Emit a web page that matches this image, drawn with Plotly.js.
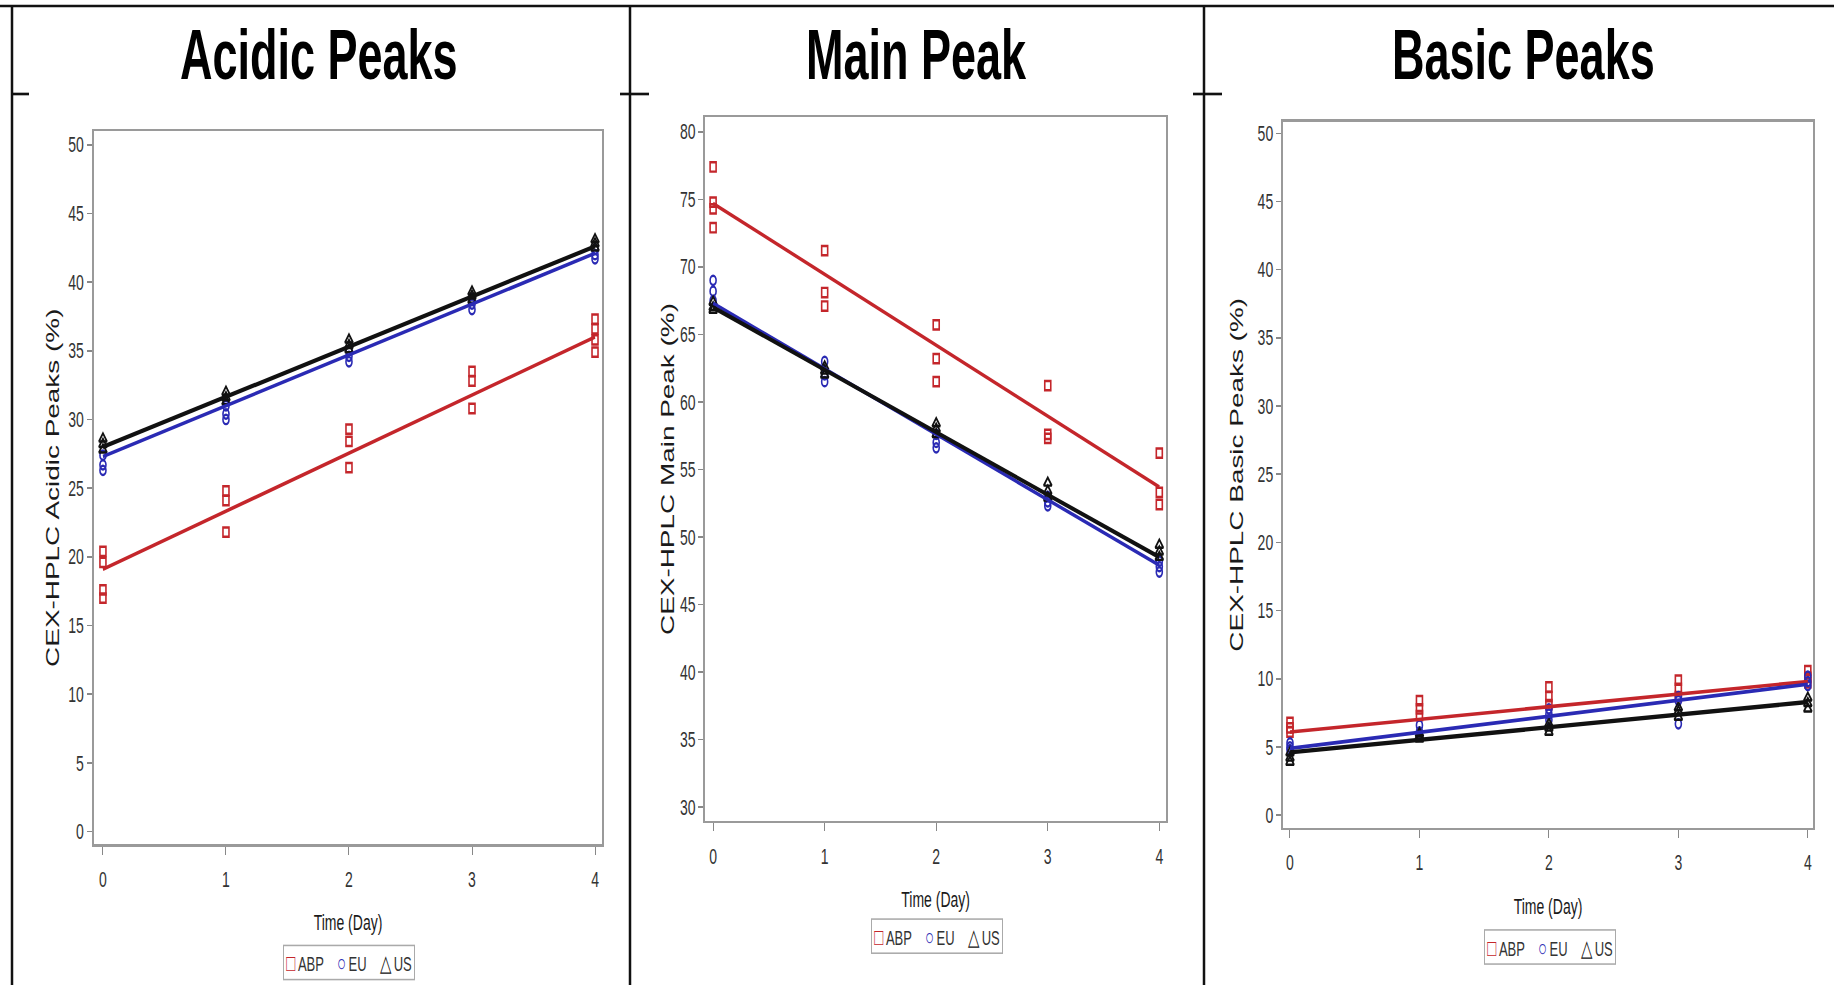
<!DOCTYPE html>
<html>
<head>
<meta charset="utf-8">
<script src="https://cdn.plot.ly/plotly-3.0.1.min.js"></script>
<style>
  html, body { margin: 0; padding: 0; background: #ffffff; width: 1834px; height: 985px; }
  #wrap { position: relative; width: 1834px; height: 985px; overflow: visible; }
  /* the reference picture is stretched vertically; draw at a compressed height and stretch it back */
  #chart { position: absolute; left: 0; top: 0; width: 1834px; height: 635px; transform: scaleY(1.55118); transform-origin: 0 0; }
</style>
</head>
<body>
<div id="wrap"><div id="chart"></div></div>
<script>
// ---------------- data ----------------
const days = [0, 1, 2, 3, 4];
const fitDays = [0, 4];
const seriesNames = ["ABP", "EU", "US"];
const panelTitles = ["Acidic Peaks", "Main Peak", "Basic Peaks"];
const yTitles = ["CEX-HPLC Acidic Peaks (%)", "CEX-HPLC Main Peak (%)", "CEX-HPLC Basic Peaks (%)"];
const xTitle = "Time (Day)";

// replicate values per day (outer index = day 0..4)
const acidicABP = [[20.4, 19.6, 17.6, 17.0], [24.8, 24.1, 21.8], [29.3, 28.4, 26.5], [33.5, 32.8, 30.8], [37.3, 36.6, 35.8, 34.9]];
const acidicEU  = [[27.4, 26.7, 26.3], [31.0, 30.4, 30.0], [35.0, 34.6, 34.2], [38.8, 38.4, 38.0], [42.4, 42.0, 41.7]];
const acidicUS  = [[28.6, 28.2, 27.8], [32.0, 31.6, 31.3], [35.8, 35.4, 35.1], [39.3, 39.0, 38.7], [43.1, 42.8, 42.5]];
const acidicFitABP = [19.1, 36.0];
const acidicFitEU  = [27.3, 42.1];
const acidicFitUS  = [28.0, 42.6];

const mainABP = [[77.4, 74.8, 74.3, 72.9], [71.2, 68.1, 67.1], [65.7, 63.2, 61.5], [61.2, 57.6, 57.3], [56.2, 53.3, 52.4]];
const mainEU  = [[69.0, 68.2, 67.5], [63.0, 62.0, 61.5], [57.6, 57.0, 56.6], [53.0, 52.6, 52.3], [48.2, 47.8, 47.4]];
const mainUS  = [[67.4, 67.0, 66.8], [62.6, 62.3, 62.0], [58.4, 58.0, 57.6], [54.0, 53.4, 52.9], [49.4, 48.9, 48.5]];
const mainFitABP = [74.7, 53.7];
const mainFitEU  = [67.3, 47.9];
const mainFitUS  = [67.0, 48.5];

const basicABP = [[6.8, 6.4, 6.1], [8.4, 7.8, 7.3], [9.4, 8.7, 8.1], [9.9, 9.3, 8.7], [10.6, 10.1, 9.7]];
const basicEU  = [[5.3, 5.0, 4.8], [6.6, 6.1, 5.8], [7.8, 7.4, 7.0], [8.7, 8.4, 6.7], [10.2, 9.8, 9.5]];
const basicUS  = [[4.6, 4.2, 3.9], [6.0, 5.8, 5.6], [6.7, 6.4, 6.1], [7.9, 7.6, 7.2], [8.6, 8.2, 7.8]];
const basicFitABP = [6.1, 9.8];
const basicFitEU  = [4.9, 9.6];
const basicFitUS  = [4.6, 8.3];

const yRanges = [[-0.94, 51.0], [28.96, 81.1], [-0.94, 50.86]];
const xRanges = [[-0.076, 4.06], [-0.07, 4.06], [-0.054, 4.04]];
const yTicks = [[0,5,10,15,20,25,30,35,40,45,50], [30,35,40,45,50,55,60,65,70,75,80], [0,5,10,15,20,25,30,35,40,45,50]];

// ---------------- styling ----------------
const W = 1834, H = 985;          // picture size
const PH = 635;                   // drawing height before vertical stretch
const colors = { ABP: "#c4262b", EU: "#2a2ab4", US: "#111111" };
const symbols = { ABP: "square-open", EU: "circle-open", US: "triangle-up-open" };
const legendGlyphs = { ABP: "\u25A1", EU: "\u25CB", US: "\u25B3" };
const SANS = '"Liberation Sans", Arial, sans-serif';

// plot area pixel boxes in the picture [left, right, top, bottom]
const boxes = [[93.6, 602.4, 131, 844.5], [705.3, 1166, 117, 821], [1283, 1813, 121.6, 828]];
const titleX = [319, 916, 1523];
const legendPos = [[349, 962], [937, 936], [1550, 947]];
const yStandoff = [4, 1, 9];

const panelData = [
  { ABP: acidicABP, EU: acidicEU, US: acidicUS, fit: { ABP: acidicFitABP, EU: acidicFitEU, US: acidicFitUS } },
  { ABP: mainABP, EU: mainEU, US: mainUS, fit: { ABP: mainFitABP, EU: mainFitEU, US: mainFitUS } },
  { ABP: basicABP, EU: basicEU, US: basicUS, fit: { ABP: basicFitABP, EU: basicFitEU, US: basicFitUS } }
];

function flatten(perDay) {
  const xs = [], ys = [];
  perDay.forEach((vals, i) => vals.forEach(v => { xs.push(days[i]); ys.push(v); }));
  return { xs, ys };
}

const legendText = seriesNames.map(s =>
  '<span style="color:' + colors[s] + ';font-size:15px">' + legendGlyphs[s] + '</span>\u2009' + s
).join('\u2002\u2002');

const traces = [];
const layout = {
  width: W, height: PH,
  margin: { l: 0, r: 0, t: 0, b: 0 },
  paper_bgcolor: "#ffffff",
  plot_bgcolor: "#ffffff",
  showlegend: false,
  shapes: [],
  annotations: []
};

panelData.forEach((pd, p) => {
  const ax = p === 0 ? "" : String(p + 1);
  const xa = "x" + ax, ya = "y" + ax;
  seriesNames.forEach(s => {
    const f = flatten(pd[s]);
    traces.push({
      type: "scatter", mode: "markers", name: s, x: f.xs, y: f.ys,
      xaxis: xa, yaxis: ya,
      marker: { symbol: symbols[s], size: s === "US" ? 7 : 6, color: colors[s], line: { width: 1.6, color: colors[s] } }
    });
  });
  seriesNames.forEach(s => {
    traces.push({
      type: "scatter", mode: "lines", name: s + " fit", x: fitDays, y: pd.fit[s],
      xaxis: xa, yaxis: ya,
      line: { color: colors[s], width: s === "US" ? 2.8 : 2.4 }
    });
  });

  const b = boxes[p];
  layout["xaxis" + ax] = {
    domain: [b[0] / W, b[1] / W],
    anchor: ya,
    range: xRanges[p],
    tickvals: days,
    ticktext: days.map(String),
    ticks: "outside", ticklen: 5, tickcolor: "#888", tickwidth: 1,
    ticklabelstandoff: 4,
    tickfont: { family: SANS, size: 14, color: "#333" },
    showline: true, linecolor: "#9a9a9a", linewidth: 1.6, mirror: true,
    showgrid: false, zeroline: false,
    title: { text: xTitle, font: { family: SANS, size: 14, color: "#1a1a1a" }, standoff: 16 }
  };
  layout["yaxis" + ax] = {
    domain: [1 - b[3] / H, 1 - b[2] / H],
    anchor: xa,
    range: yRanges[p],
    tickvals: yTicks[p],
    ticks: "outside", ticklen: 5, tickcolor: "#888", tickwidth: 1,
    tickfont: { family: SANS, size: 14, color: "#333" },
    showline: true, linecolor: "#9a9a9a", linewidth: 2, mirror: true,
    showgrid: false, zeroline: false,
    title: { text: yTitles[p], font: { family: SANS, size: 18, color: "#1a1a1a" }, standoff: yStandoff[p] }
  };

  // panel heading
  layout.annotations.push({
    xref: "paper", yref: "paper", x: titleX[p] / W, y: 1 - 55 / H,
    xanchor: "center", yanchor: "middle", showarrow: false,
    text: "<b>" + panelTitles[p] + "</b>",
    font: { family: SANS, size: 45, color: "#000" }
  });

  // legend box
  const lp = legendPos[p];
  layout.annotations.push({
    xref: "paper", yref: "paper", x: lp[0] / W, y: 1 - lp[1] / H,
    xanchor: "center", yanchor: "middle", showarrow: false,
    text: legendText,
    font: { family: SANS, size: 13, color: "#333" },
    bordercolor: "#aaa", borderwidth: 1, borderpad: 2, bgcolor: "#fff"
  });
});

// outer table frame lines
const frameColor = "#111";
layout.shapes.push({ type: "line", xref: "paper", yref: "paper", x0: 0, x1: 1, y0: 1 - 6 / H, y1: 1 - 6 / H, line: { color: frameColor, width: 1.7 } });
[12, 630, 1204].forEach(x => {
  layout.shapes.push({ type: "line", xref: "paper", yref: "paper", x0: x / W, x1: x / W, y0: 0, y1: 1 - 6 / H, line: { color: frameColor, width: 2.5 } });
});
[[12, 29], [620, 649], [1193, 1222]].forEach(seg => {
  layout.shapes.push({ type: "line", xref: "paper", yref: "paper", x0: seg[0] / W, x1: seg[1] / W, y0: 1 - 94 / H, y1: 1 - 94 / H, line: { color: frameColor, width: 1.7 } });
});

Plotly.newPlot("chart", traces, layout, { displayModeBar: false, staticPlot: true });
</script>
</body>
</html>
